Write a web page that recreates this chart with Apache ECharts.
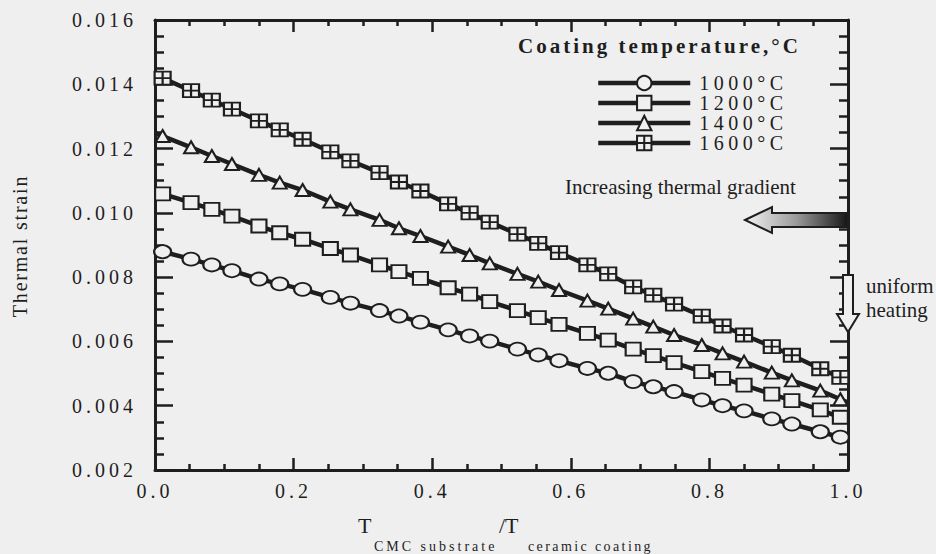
<!DOCTYPE html>
<html>
<head>
<meta charset="utf-8">
<script src="https://cdn.jsdelivr.net/npm/echarts@6/dist/echarts.min.js"></script>
<style>
html,body{margin:0;padding:0;background:#efefef;}
#chart{width:936px;height:554px;}
</style>
</head>
<body>
<div id="chart"></div>
<script>
// ---- data ----
const seriesNames = ['1000°C', '1200°C', '1400°C', '1600°C'];
const xMarkers = [0.011,0.052,0.082,0.111,0.150,0.180,0.213,0.253,0.282,0.324,0.352,0.383,0.423,0.454,0.483,0.523,0.553,0.583,0.624,0.654,0.690,0.719,0.749,0.789,0.819,0.850,0.890,0.919,0.960,0.989];
const s1000 = [0.00879,0.00856,0.00838,0.00820,0.00794,0.00779,0.00762,0.00737,0.00719,0.00696,0.00679,0.00660,0.00636,0.00617,0.00601,0.00576,0.00558,0.00540,0.00516,0.00501,0.00475,0.00459,0.00444,0.00418,0.00400,0.00384,0.00359,0.00343,0.00319,0.00302];
const s1200 = [0.01059,0.01032,0.01011,0.00990,0.00959,0.00938,0.00918,0.00889,0.00869,0.00838,0.00817,0.00796,0.00767,0.00747,0.00724,0.00696,0.00674,0.00653,0.00625,0.00604,0.00576,0.00556,0.00534,0.00506,0.00485,0.00464,0.00436,0.00416,0.00387,0.00364];
const s1400 = [0.01239,0.01204,0.01177,0.01152,0.01118,0.01094,0.01071,0.01035,0.01011,0.00978,0.00952,0.00928,0.00895,0.00869,0.00843,0.00810,0.00786,0.00760,0.00727,0.00702,0.00671,0.00646,0.00620,0.00589,0.00563,0.00537,0.00503,0.00479,0.00447,0.00420];
const s1600 = [0.01419,0.01380,0.01351,0.01323,0.01286,0.01258,0.01229,0.01190,0.01162,0.01125,0.01096,0.01068,0.01028,0.01000,0.00971,0.00934,0.00905,0.00876,0.00838,0.00810,0.00770,0.00744,0.00716,0.00679,0.00648,0.00620,0.00584,0.00557,0.00515,0.00488];
const lineStart = [0.00885, 0.01066, 0.01248, 0.01429]; // value at x = 0
const lineEnd   = [0.00296, 0.00355, 0.00410, 0.00478]; // value at x = 1
const xTicks = [0.0, 0.2, 0.4, 0.6, 0.8, 1.0];
const yTicks = [0.002, 0.004, 0.006, 0.008, 0.010, 0.012, 0.014, 0.016];

// ---- styling ----
const INK = '#1e1e1e';
const BG = '#efefef';
const SERIF = "'Liberation Serif', 'DejaVu Serif', serif";
const symbols = [
  'circle',
  'rect',
  'triangle',
  'path://M0,0L16,0L16,12L0,12Z M8,0L8,12 M0,6L16,6'
];
const symbolSizes = [[17,13],[15,13],[14,12],[16,13]];
const allValues = [s1000, s1200, s1400, s1600];

function buildData(i) {
  const d = [{value:[0, lineStart[i]], symbol:'none'}];
  xMarkers.forEach((x, k) => d.push([x, allValues[i][k]]));
  d.push({value:[1, lineEnd[i]], symbol:'none'});
  return d;
}

const series = seriesNames.map((name, i) => ({
  name: name,
  type: 'line',
  data: buildData(i),
  symbol: symbols[i],
  symbolSize: symbolSizes[i],
  showAllSymbol: true,
  lineStyle: {color: INK, width: 4.5},
  itemStyle: {color: BG, borderColor: INK, borderWidth: 2},
  emphasis: {disabled: true},
  z: 2 + i
}));

function axisCommon(extra) {
  return Object.assign({
    axisLine: {show: true, onZero: false, lineStyle: {color: INK, width: 3}},
    splitLine: {show: false},
    minorSplitLine: {show: false}
  }, extra);
}

const xTickCommon = {
  type: 'value', min: xTicks[0], max: xTicks[xTicks.length-1], interval: 0.2,
  axisTick: {show: true, inside: true, length: 12, lineStyle: {color: INK, width: 2.5}},
  minorTick: {show: true, splitNumber: 4, length: 6, lineStyle: {color: INK, width: 2.5}}
};
const yTickCommon = {
  type: 'value', min: yTicks[0], max: yTicks[yTicks.length-1], interval: 0.002,
  axisTick: {show: true, inside: true, length: 18, lineStyle: {color: INK, width: 2.5}},
  minorTick: {show: true, splitNumber: 4, length: 9, lineStyle: {color: INK, width: 2.5}}
};

const option = {
  backgroundColor: BG,
  animation: false,
  grid: {left: 155, right: 88, top: 20, bottom: 84},
  xAxis: [
    axisCommon(Object.assign({}, xTickCommon, {
      position: 'bottom',
      axisLabel: {show: true, margin: 11, color: INK, fontFamily: SERIF, fontSize: 20,
        formatter: v => v.toFixed(1)}
    })),
    axisCommon(Object.assign({}, xTickCommon, {position: 'top', axisLabel: {show: false}}))
  ],
  yAxis: [
    axisCommon(Object.assign({}, yTickCommon, {
      position: 'left',
      axisLabel: {show: true, margin: 18, color: INK, fontFamily: SERIF, fontSize: 20,
        formatter: v => v.toFixed(3)}
    })),
    axisCommon(Object.assign({}, yTickCommon, {position: 'right', axisLabel: {show: false}}))
  ],
  legend: {
    orient: 'vertical', left: 596, top: 73, padding: 0,
    itemWidth: 92, itemHeight: 18, itemGap: 0,
    selectedMode: false,
    lineStyle: {width: 4.5, color: INK},
    textStyle: {fontFamily: SERIF, fontSize: 20, color: INK, lineHeight: 20, padding: [0, 0, 0, 4]},
    data: seriesNames
  },
  series: series,
  graphic: [
    {type:'text', x: 518, y: 46, style:{text:'Coating temperature,°C', fontFamily: SERIF, fontSize: 21, fontWeight:'bold', fill: INK, align:'left', verticalAlign:'middle'}},
    {type:'text', x: 565, y: 187, style:{text:'Increasing thermal gradient', fontFamily: SERIF, fontSize: 21, fill: INK, align:'left', verticalAlign:'middle'}},
    {type:'polygon', z: 50, shape:{points:[[745,220],[772,207],[772,213],[848,213],[848,227],[772,227],[772,233]]},
      style:{fill:{type:'linear', x:0, y:0, x2:1, y2:0, colorStops:[{offset:0, color:'#f4f4f4'},{offset:0.5, color:'#9a9a9a'},{offset:1, color:'#151515'}]}, stroke: INK, lineWidth: 2}},
    {type:'polygon', z: 50, shape:{points:[[843,275],[853,275],[853,314],[859,314],[848,332],[837,314],[843,314]]},
      style:{fill: BG, stroke: INK, lineWidth: 2}},
    {type:'text', x: 866, y: 286, style:{text:'uniform', fontFamily: SERIF, fontSize: 21, fill: INK, align:'left', verticalAlign:'middle'}},
    {type:'text', x: 866, y: 310, style:{text:'heating', fontFamily: SERIF, fontSize: 21, fill: INK, align:'left', verticalAlign:'middle'}},
    {type:'text', x: 20, y: 246, rotation: Math.PI/2, style:{text:'Thermal strain', fontFamily: SERIF, fontSize: 20, fill: INK, align:'center', verticalAlign:'middle'}},
    {type:'text', x: 358, y: 525, style:{text:'T', fontFamily: SERIF, fontSize: 22, fill: INK, align:'left', verticalAlign:'middle'}},
    {type:'text', x: 374, y: 546, style:{text:'CMC substrate', fontFamily: SERIF, fontSize: 14, fill: INK, align:'left', verticalAlign:'middle'}},
    {type:'text', x: 499, y: 525, style:{text:'/T', fontFamily: SERIF, fontSize: 22, fill: INK, align:'left', verticalAlign:'middle'}},
    {type:'text', x: 528, y: 546, style:{text:'ceramic coating', fontFamily: SERIF, fontSize: 14, fill: INK, align:'left', verticalAlign:'middle'}}
  ]
};

const chart = echarts.init(document.getElementById('chart'), null, {renderer: 'svg'});
chart.setOption(option);

function applySpacing() {
  document.querySelectorAll('#chart svg text').forEach(t => {
    const s = t.textContent;
    let ls = 0;
    if (/^\d\.\d+$/.test(s)) ls = 4;
    else if (/^\d+°C$/.test(s)) ls = 4.5;
    else if (s.indexOf('Coating') === 0) ls = 3;
    else if (s === 'CMC substrate') ls = 3;
    else if (s === 'ceramic coating') ls = 2.4;
    else if (s === 'Thermal strain') ls = 1.8;
    if (ls) t.style.letterSpacing = ls + 'px';
  });
}
applySpacing();
chart.on('finished', applySpacing);
</script>
</body>
</html>
